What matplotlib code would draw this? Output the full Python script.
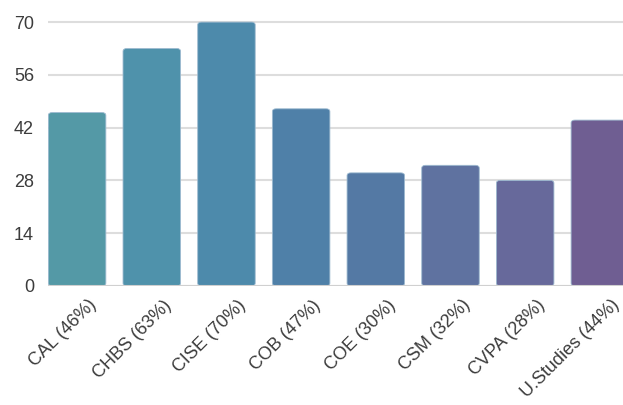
import matplotlib
matplotlib.use("Agg")
import matplotlib.pyplot as plt
from matplotlib.patches import FancyBboxPatch
from matplotlib.transforms import ScaledTranslation

plt.rcParams['font.family'] = ['Liberation Sans', 'DejaVu Sans']

# data
colleges = ["CAL", "CHBS", "CISE", "COB", "COE", "CSM", "CVPA", "U.Studies"]
values = [46, 63, 70, 47, 30, 32, 28, 44]
pct_labels = ["46%", "63%", "70%", "47%", "30%", "32%", "28%", "44%"]
bar_colors = ["#5499a6", "#4f92ab", "#4d8aab", "#4f80a8", "#5479a4",
              "#5f72a0", "#67699b", "#6f5e92"]
y_ticks = [0, 14, 28, 42, 56, 70]

fig = plt.figure(figsize=(6.23, 4.05), dpi=100)
ax = fig.add_axes([0.077, 0.294, 0.923, 0.657])

x = list(range(len(colleges)))
bars = ax.bar(x, values, width=0.77, color="none", zorder=3)

# swap plain rectangles for slightly rounded ones
for b, c in zip(bars, bar_colors):
    r = FancyBboxPatch((b.get_x(), b.get_y()), b.get_width(), b.get_height(),
                       boxstyle="round,pad=0,rounding_size=0.05",
                       mutation_aspect=15,
                       facecolor=c, edgecolor="#9dbad0", linewidth=0.6, zorder=3)
    ax.add_patch(r)
    b.remove()

ax.set_xlim(-0.39, 7.31)
ax.set_ylim(0, 70.6)
ax.set_yticks(y_ticks)
ax.set_yticklabels([str(t) for t in y_ticks], fontsize=13, color="#3c3c3c")
ax.set_xticks(x)
ax.set_xticklabels([f"{c} ({p})" for c, p in zip(colleges, pct_labels)],
                   rotation=45, ha="right", va="center", rotation_mode="anchor",
                   fontsize=13, color="#3c3c3c")
ax.tick_params(axis="both", length=0)
ax.tick_params(axis="y", pad=10)
ax.tick_params(axis="x", pad=12)

# nudge rotated labels to the right like the original
shift = ScaledTranslation(0.17, 0, fig.dpi_scale_trans)
for lbl in ax.get_xticklabels():
    lbl.set_transform(lbl.get_transform() + shift)

ax.grid(axis="y", color="#dddddd", linewidth=1.5, zorder=0)
ax.set_axisbelow(True)
for s in ax.spines.values():
    s.set_visible(False)
ax.axhline(0, color="#d0d0d0", linewidth=1.5, zorder=4)

fig.savefig("out.png", dpi=100)
